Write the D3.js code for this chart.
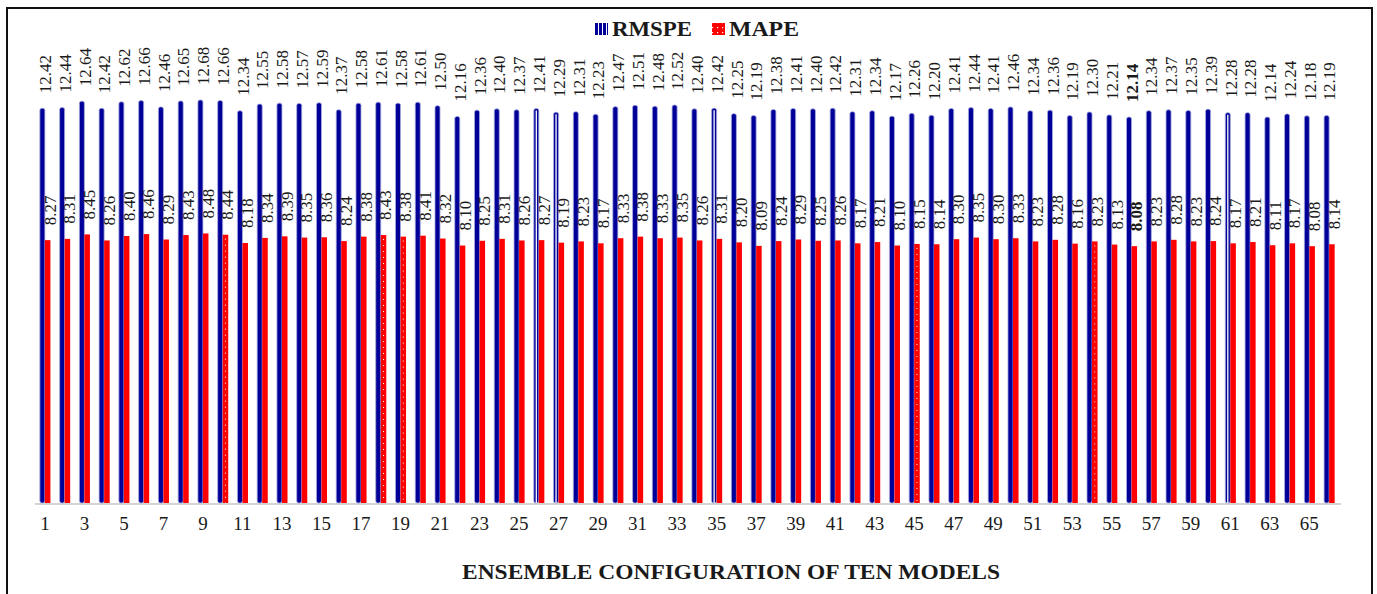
<!DOCTYPE html>
<html>
<head>
<meta charset="utf-8">
<script src="https://cdn.jsdelivr.net/npm/d3@7"></script>
<style>
  html, body { margin: 0; padding: 0; background: #fff; }
  svg { display: block; }
  text { font-family: "Liberation Serif", "Times New Roman", serif; fill: #1a1a1a; }
</style>
</head>
<body>
<svg id="chart" width="1377" height="594"></svg>
<script>
// Ensemble configuration index (1..66)
const configs = d3.range(1, 67);

// RMSPE per configuration
const rmspe = [
  12.42, 12.44, 12.64, 12.42, 12.62, 12.66, 12.46, 12.65, 12.68, 12.66,
  12.34, 12.55, 12.58, 12.57, 12.59, 12.37, 12.58, 12.61, 12.58, 12.61,
  12.50, 12.16, 12.36, 12.40, 12.37, 12.41, 12.29, 12.31, 12.23, 12.47,
  12.51, 12.48, 12.52, 12.40, 12.42, 12.25, 12.19, 12.38, 12.41, 12.40,
  12.42, 12.31, 12.34, 12.17, 12.26, 12.20, 12.41, 12.44, 12.41, 12.46,
  12.34, 12.36, 12.19, 12.30, 12.21, 12.14, 12.34, 12.37, 12.35, 12.39,
  12.28, 12.28, 12.14, 12.24, 12.18, 12.19
];

// MAPE per configuration
const mape = [
  8.27, 8.31, 8.45, 8.26, 8.40, 8.46, 8.29, 8.43, 8.48, 8.44,
  8.18, 8.34, 8.39, 8.35, 8.36, 8.24, 8.38, 8.43, 8.38, 8.41,
  8.32, 8.10, 8.25, 8.31, 8.26, 8.27, 8.19, 8.23, 8.17, 8.33,
  8.38, 8.33, 8.35, 8.26, 8.31, 8.20, 8.09, 8.24, 8.29, 8.25,
  8.26, 8.17, 8.21, 8.10, 8.15, 8.14, 8.30, 8.35, 8.30, 8.33,
  8.23, 8.28, 8.16, 8.23, 8.13, 8.08, 8.23, 8.28, 8.23, 8.24,
  8.17, 8.21, 8.11, 8.17, 8.08, 8.14
];

// Tick labels on the category axis (every other configuration)
const tickLabels = configs.filter(d => d % 2 === 1);

const seriesNames = ["RMSPE", "MAPE"];
const seriesColors = { RMSPE: "#000099", MAPE: "#ff0000" };

// Configurations whose bars carry a fill pattern
const stripedBlue = [26, 27, 35, 61];
const dottedRed = [10, 18, 19, 45, 54];
// Best (lowest) configuration, labelled in bold
const bestConfig = 56;

const rows = configs.map((c, i) => ({ config: c, RMSPE: rmspe[i], MAPE: mape[i] }));

const svg = d3.select("#chart");
const plot = { left: 35, right: 1339, top: 58, bottom: 503 };

const x = d3.scaleBand()
  .domain(configs)
  .range([plot.left, plot.right])
  .paddingInner(0.44)
  .paddingOuter(0.22);

const xs = d3.scaleBand()
  .domain(seriesNames)
  .range([0, x.bandwidth()]);

const y = d3.scaleLinear()
  .domain([0, 14])
  .range([plot.bottom, plot.top]);

// Legend swatch patterns
const defs = svg.append("defs");
const pStripe = defs.append("pattern")
  .attr("id", "legendStripe").attr("patternUnits", "userSpaceOnUse")
  .attr("width", 4).attr("height", 4);
pStripe.append("rect").attr("width", 4).attr("height", 4).attr("fill", seriesColors.RMSPE);
pStripe.append("rect").attr("x", 2).attr("width", 1).attr("height", 4).attr("fill", "#fff");

const pDots = defs.append("pattern")
  .attr("id", "legendDots").attr("patternUnits", "userSpaceOnUse")
  .attr("width", 5).attr("height", 5);
pDots.append("rect").attr("width", 5).attr("height", 5).attr("fill", seriesColors.MAPE);
pDots.append("rect").attr("x", 2).attr("y", 2).attr("width", 1.2).attr("height", 1.2).attr("fill", "#fff");

// Outer frame
svg.append("rect")
  .attr("x", 7).attr("y", 8).attr("width", 1365).attr("height", 600)
  .attr("fill", "none").attr("stroke", "#111").attr("stroke-width", 2);

// Baseline
svg.append("line")
  .attr("x1", plot.left).attr("x2", plot.right + 2)
  .attr("y1", y(0) + 1).attr("y2", y(0) + 1)
  .attr("stroke", "#d4d4d4").attr("stroke-width", 2);

// Bars
const groups = svg.append("g").selectAll("g")
  .data(rows).join("g")
  .attr("transform", d => `translate(${x(d.config)},0)`);

// RMSPE bars
groups.append("rect")
  .attr("x", xs("RMSPE") + 0.5)
  .attr("width", xs.bandwidth() - 0.5)
  .attr("y", d => y(d.RMSPE))
  .attr("height", d => y(0) - y(d.RMSPE))
  .attr("rx", 2)
  .attr("fill", seriesColors.RMSPE)
  .attr("stroke", "#a9acdf")
  .attr("stroke-width", 0.8);

// White centre stripe on patterned RMSPE bars
groups.filter(d => stripedBlue.includes(d.config))
  .append("line")
  .attr("x1", xs("RMSPE") + xs.bandwidth() / 2 + 0.25)
  .attr("x2", xs("RMSPE") + xs.bandwidth() / 2 + 0.25)
  .attr("y1", d => y(d.RMSPE) + 2)
  .attr("y2", y(0))
  .attr("stroke", "#fff").attr("stroke-width", 1.3);

// MAPE bars
groups.append("rect")
  .attr("x", xs("MAPE"))
  .attr("width", xs.bandwidth())
  .attr("y", d => y(d.MAPE))
  .attr("height", d => y(0) - y(d.MAPE))
  .attr("fill", seriesColors.MAPE);

// Dotted centre line on patterned MAPE bars
groups.filter(d => dottedRed.includes(d.config))
  .append("line")
  .attr("x1", xs("MAPE") + xs.bandwidth() / 2)
  .attr("x2", xs("MAPE") + xs.bandwidth() / 2)
  .attr("y1", d => y(d.MAPE) + 4)
  .attr("y2", y(0))
  .attr("stroke", "#fff").attr("stroke-width", 1)
  .attr("stroke-dasharray", "1,5");

// Value labels (rotated)
groups.append("text")
  .attr("transform", d => `translate(${xs("RMSPE") + xs.bandwidth() / 2 + 3},${y(d.RMSPE) - 15}) rotate(-90)`)
  .attr("dy", "0.35em")
  .attr("font-size", 17)
  .attr("font-weight", d => d.config === bestConfig ? "bold" : "normal")
  .text(d => d.RMSPE.toFixed(2));

groups.append("text")
  .attr("transform", d => `translate(${xs("MAPE") + xs.bandwidth() / 2 + 2},${y(d.MAPE) - 15}) rotate(-90)`)
  .attr("dy", "0.35em")
  .attr("font-size", 17)
  .attr("font-weight", d => d.config === bestConfig ? "bold" : "normal")
  .text(d => d.MAPE.toFixed(2));

// Category axis
const xAxis = d3.axisBottom(x).tickValues(tickLabels).tickSize(0).tickPadding(14);
const gx = svg.append("g")
  .attr("transform", `translate(0,${plot.bottom})`)
  .call(xAxis);
gx.select(".domain").remove();
gx.selectAll("text")
  .attr("font-size", 19)
  .attr("font-family", "Liberation Serif, Times New Roman, serif")
  .attr("fill", "#1a1a1a");

// Axis title
svg.append("text")
  .attr("x", 731).attr("y", 579)
  .attr("text-anchor", "middle")
  .attr("font-size", 22)
  .attr("font-weight", "bold")
  .attr("textLength", 538)
  .attr("lengthAdjust", "spacingAndGlyphs")
  .text("ENSEMBLE CONFIGURATION OF TEN MODELS");

// Legend
const legend = svg.append("g");
const legendItems = [
  { name: "RMSPE", x: 595, w: 80, fill: "url(#legendStripe)" },
  { name: "MAPE", x: 712, w: 70, fill: "url(#legendDots)" }
];
legendItems.forEach(it => {
  legend.append("rect")
    .attr("x", it.x).attr("y", 23).attr("width", 13).attr("height", 12)
    .attr("fill", it.fill);
  legend.append("text")
    .attr("x", it.x + 17).attr("y", 36)
    .attr("font-size", 21).attr("font-weight", "bold")
    .attr("textLength", it.w)
    .attr("lengthAdjust", "spacingAndGlyphs")
    .text(it.name);
});
</script>
</body>
</html>
